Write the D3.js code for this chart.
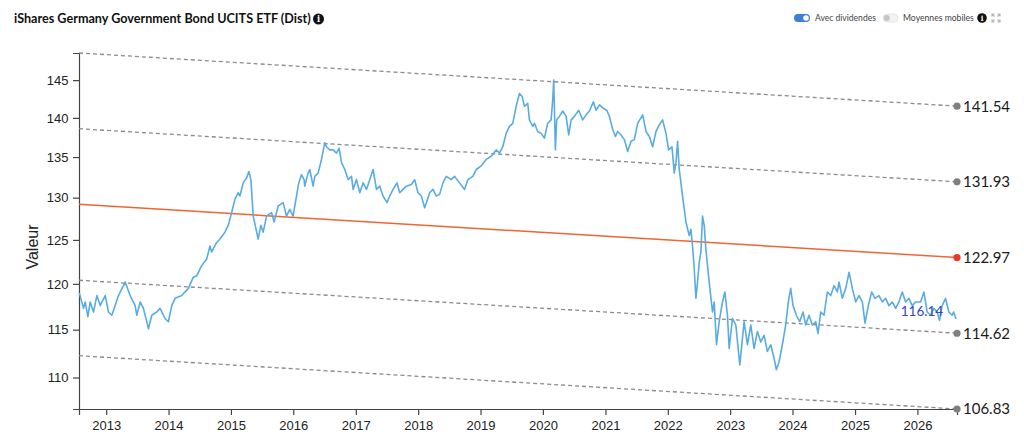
<!DOCTYPE html>
<html>
<head>
<meta charset="utf-8">
<script src="https://cdn.jsdelivr.net/npm/d3@7"></script>
<style>
  body { margin: 0; background: #fff; }
  svg { display: block; }
</style>
</head>
<body>
<svg id="chart" width="1024" height="438"></svg>
<script>
  // ---------------- Données ----------------
  // dates en années décimales
  const dates = [
    2012.57, 2012.637, 2012.664, 2012.707, 2012.744, 2012.797, 2012.851, 2012.904, 2012.984,
    2013.037, 2013.091, 2013.144, 2013.197, 2013.304, 2013.384, 2013.464, 2013.491, 2013.544,
    2013.597, 2013.651, 2013.677, 2013.731, 2013.811, 2013.864, 2013.944, 2013.997,
    2014.051, 2014.104, 2014.211, 2014.317, 2014.397, 2014.451, 2014.531, 2014.611, 2014.664,
    2014.691, 2014.771, 2014.824, 2014.904, 2014.957,
    2015.011, 2015.064, 2015.117, 2015.144, 2015.197, 2015.251, 2015.288, 2015.32, 2015.357,
    2015.384, 2015.437, 2015.48, 2015.517, 2015.571, 2015.651, 2015.693, 2015.757, 2015.837,
    2015.891, 2015.944, 2015.997,
    2016.024, 2016.088, 2016.131, 2016.173, 2016.184, 2016.237, 2016.264, 2016.317, 2016.344,
    2016.397, 2016.451, 2016.504, 2016.531, 2016.584, 2016.637, 2016.691, 2016.733, 2016.771,
    2016.824, 2016.877, 2016.931, 2016.957,
    2017.011, 2017.064, 2017.117, 2017.171, 2017.224, 2017.277, 2017.331, 2017.384, 2017.437,
    2017.501, 2017.544, 2017.597, 2017.661, 2017.704, 2017.757, 2017.811, 2017.891, 2017.944,
    2017.997,
    2018.051, 2018.104, 2018.131, 2018.184, 2018.237, 2018.291, 2018.344, 2018.397, 2018.451,
    2018.531, 2018.584, 2018.664, 2018.744, 2018.797, 2018.877, 2018.931,
    2019.011, 2019.091, 2019.171, 2019.251, 2019.304, 2019.357, 2019.411, 2019.464, 2019.517,
    2019.571, 2019.624, 2019.667, 2019.704, 2019.757, 2019.784, 2019.837, 2019.864, 2019.917,
    2019.971,
    2020.024, 2020.077, 2020.131, 2020.157, 2020.173, 2020.2, 2020.221, 2020.264, 2020.317,
    2020.371, 2020.413, 2020.451, 2020.504, 2020.573, 2020.637, 2020.691, 2020.744, 2020.808,
    2020.851, 2020.904, 2020.957,
    2021.021, 2021.064, 2021.117, 2021.16, 2021.197, 2021.251, 2021.304, 2021.357, 2021.411,
    2021.464, 2021.517, 2021.597, 2021.651, 2021.704, 2021.757, 2021.811, 2021.864, 2021.917,
    2021.971,
    2022.013, 2022.067, 2022.104, 2022.131, 2022.157, 2022.184, 2022.237, 2022.291, 2022.344,
    2022.371, 2022.397, 2022.424, 2022.451, 2022.477, 2022.504, 2022.531, 2022.557, 2022.584,
    2022.611, 2022.664, 2022.717, 2022.744, 2022.781, 2022.824, 2022.877, 2022.915, 2022.957,
    2022.984,
    2023.037, 2023.091, 2023.155, 2023.224, 2023.277, 2023.331, 2023.384, 2023.437, 2023.491,
    2023.544, 2023.597, 2023.651, 2023.704, 2023.741, 2023.784, 2023.837, 2023.891, 2023.933,
    2023.971,
    2024.008, 2024.061, 2024.115, 2024.168, 2024.211, 2024.264, 2024.317, 2024.371, 2024.408,
    2024.451, 2024.504, 2024.557, 2024.611, 2024.664, 2024.717, 2024.744, 2024.797, 2024.851,
    2024.904, 2024.957,
    2025.011, 2025.064, 2025.117, 2025.16, 2025.213, 2025.267, 2025.32, 2025.384, 2025.437,
    2025.491, 2025.544, 2025.597, 2025.651, 2025.704, 2025.757, 2025.811, 2025.864, 2025.917,
    2025.971,
    2026.051, 2026.104, 2026.157, 2026.211, 2026.264, 2026.317, 2026.355, 2026.397, 2026.451,
    2026.504, 2026.557, 2026.58, 2026.62
  ];

  const values = [
    119.0, 117.3, 118.0, 116.4, 118.0, 116.9, 118.7, 117.6, 118.7,
    116.9, 116.55, 117.6, 118.7, 120.2, 118.7, 117.6, 116.55, 118.0,
    117.3, 115.85, 115.1, 116.55, 116.9, 117.3, 116.2, 115.85,
    117.6, 118.4, 118.7, 119.5, 120.75, 120.9, 122.05, 122.8, 124.3,
    123.6, 124.7, 125.1, 125.9, 126.7,
    128.2, 129.8, 130.6, 130.2, 131.8, 132.4, 133.2, 132.2, 127.8,
    126.9, 125.1, 126.7, 125.9, 127.8, 128.2, 127.1, 129.0, 129.4,
    127.8, 128.6, 127.8,
    129.0, 131.8, 132.8, 132.2, 131.4, 133.0, 133.45, 131.4, 132.6,
    133.0, 134.7, 136.8, 136.3, 135.9, 135.9, 135.5, 136.1, 134.3,
    133.45, 132.2, 132.6, 131.0,
    132.2, 130.6, 131.8, 131.0, 132.2, 133.45, 131.0, 131.4, 130.2,
    129.4, 130.2, 131.0, 131.8, 130.6, 131.0, 131.4, 131.6, 132.2,
    130.6,
    130.2, 128.8, 129.4, 130.6, 131.0, 130.2, 130.4, 131.8, 132.6,
    132.2, 132.6, 131.8, 131.0, 132.2, 132.6, 133.45,
    133.9, 134.7, 135.1, 135.9, 135.5, 136.3, 138.0, 138.9, 139.3,
    141.5, 143.2, 142.8, 141.5, 141.9, 139.75, 138.9, 139.3, 138.25,
    138.0,
    137.4, 139.3, 139.75, 142.35, 145.0, 135.9, 139.75, 140.2, 140.9,
    140.2, 137.8, 139.75, 140.2, 141.0, 139.75, 140.4, 140.9, 142.1,
    141.0, 141.7, 141.3,
    141.0, 140.2, 138.5, 137.6, 138.25, 137.8, 137.2, 135.7, 137.0,
    137.2, 139.3, 140.4, 138.25, 137.6, 136.3, 138.25, 139.1, 139.75,
    138.0,
    135.9, 136.3, 133.0, 134.3, 137.0, 133.45, 130.2, 127.1, 125.5,
    126.25, 124.3, 121.7, 118.4, 120.2, 122.4, 123.6, 127.8, 126.7,
    123.9, 120.2, 116.9, 118.0, 113.4, 115.85, 118.0, 119.1, 116.55,
    113.0,
    116.2, 115.5, 111.3, 115.85, 113.4, 115.5, 113.0, 114.8, 113.7,
    114.4, 112.7, 113.4, 112.0, 110.8, 111.6, 113.4, 115.5, 118.0,
    119.5,
    117.6, 116.55, 115.85, 116.9, 115.5, 116.55, 115.5, 115.85, 114.6,
    116.9, 116.55, 119.1, 118.7, 119.8, 119.1, 120.2, 118.4, 119.5,
    121.3, 119.5,
    118.0, 118.7, 118.0, 115.7, 117.6, 119.1, 118.4, 118.7, 118.0,
    118.4, 117.6, 118.0, 117.3, 118.0, 119.1, 118.0, 118.4, 117.6,
    118.0,
    118.0, 119.1, 116.9, 116.55, 117.3, 116.9, 116.0, 117.6, 118.4,
    116.9, 116.55, 116.9, 116.14
  ];

  // Tendance (régression) et bandes : valeur au début et à la fin de la période
  const bandStart = [148.7, 138.6, 129.2, 120.4, 112.25];
  const bandEnd = [141.54, 131.93, 122.97, 114.62, 106.83];
  const bandIsTrend = [false, false, true, false, false];

  const periodStart = 2012.565;
  const periodEnd = 2026.635;
  const lastLabel = "116.14";

  const yTicks = [110, 115, 120, 125, 130, 135, 140, 145];
  const yDomain = [106.83, 148.7];

  // ---------------- Mise en page ----------------
  const svg = d3.select("#chart");
  const plotLeft = 79, plotRight = 957, plotTop = 53, plotBottom = 409;

  function toDate(t) {
    const yr = Math.floor(t);
    const a = new Date(yr, 0, 1), b = new Date(yr + 1, 0, 1);
    return new Date(+a + (t - yr) * (b - a));
  }

  // ajuste la taille de police pour tenir dans une largeur donnée
  function fitWidth(sel, size, width) {
    sel.style("font-size", size + "px");
    const w = sel.node().getComputedTextLength();
    if (w > 0) sel.style("font-size", (size * width / w).toFixed(2) + "px");
    return sel;
  }

  const series = dates.map((t, i) => ({ date: toDate(t), value: values[i] }));

  const x = d3.scaleTime()
    .domain([toDate(periodStart), toDate(periodEnd)])
    .range([plotLeft, plotRight]);

  const y = d3.scaleLog()
    .domain(yDomain)
    .range([plotBottom, plotTop]);

  // Axes
  const xAxis = svg.append("g")
    .attr("transform", `translate(0,${plotBottom})`)
    .call(d3.axisBottom(x).ticks(d3.timeYear.every(1)).tickFormat(d3.timeFormat("%Y")).tickPadding(5.5));

  const yAxis = svg.append("g")
    .attr("transform", `translate(${plotLeft},0)`)
    .call(d3.axisLeft(y).tickValues(yTicks).tickFormat(d3.format("d")).tickPadding(4.5));

  [xAxis, yAxis].forEach(ax => {
    ax.selectAll("path, line").attr("stroke", "#444").attr("stroke-width", 1.2);
    ax.selectAll("text")
      .attr("fill", "#222")
      .style("font-family", "'Liberation Sans', Arial, sans-serif")
      .style("font-size", "13px");
  });

  svg.append("text")
    .attr("transform", "translate(38,247) rotate(-90)")
    .attr("text-anchor", "middle")
    .attr("fill", "#222")
    .style("font-family", "'Liberation Sans', Arial, sans-serif")
    .style("font-size", "16px")
    .text("Valeur");

  // ---------------- Bandes ----------------
  const bands = bandStart.map((v, i) => ({ start: v, end: bandEnd[i], trend: bandIsTrend[i] }));

  svg.selectAll(".band")
    .data(bands)
    .enter()
    .append("line")
    .attr("class", "band")
    .attr("x1", x(toDate(periodStart)))
    .attr("x2", x(toDate(periodEnd)))
    .attr("y1", d => y(d.start))
    .attr("y2", d => y(d.end))
    .attr("stroke", d => d.trend ? "#f26430" : "#8a8a8a")
    .attr("stroke-width", d => d.trend ? 1.5 : 1.3)
    .attr("stroke-dasharray", d => d.trend ? null : "4,3");

  // ---------------- Courbe ----------------
  const line = d3.line()
    .x(d => x(d.date))
    .y(d => y(d.value));

  svg.append("path")
    .datum(series)
    .attr("fill", "none")
    .attr("stroke", "#58ace2")
    .attr("stroke-width", 1.6)
    .attr("stroke-linejoin", "round")
    .attr("d", line);

  svg.selectAll(".band-dot")
    .data(bands)
    .enter()
    .append("circle")
    .attr("cx", x(toDate(periodEnd)))
    .attr("cy", d => y(d.end))
    .attr("r", 3.6)
    .attr("fill", d => d.trend ? "#e8392b" : "#7f7f7f");

  svg.selectAll(".band-label")
    .data(bands)
    .enter()
    .append("text")
    .attr("x", x(toDate(periodEnd)) + 6)
    .attr("y", d => y(d.end))
    .attr("dy", "0.36em")
    .attr("fill", "#1a1a1a")
    .style("font-family", "Lato, sans-serif")
    .style("font-size", "15px")
    .text(d => d.end.toFixed(2));

  // Dernière valeur
  const last = series[series.length - 1];
  svg.append("text")
    .attr("x", x(last.date) - 13)
    .attr("y", y(last.value) - 3)
    .attr("text-anchor", "end")
    .attr("fill", "#3446c4")
    .style("font-family", "Lato, sans-serif")
    .style("font-size", "13.5px")
    .text(lastLabel);

  // ---------------- Titre et légende ----------------
  const title = svg.append("text")
    .attr("x", 14)
    .attr("y", 23)
    .attr("fill", "#111")
    .style("font-family", "Lato, sans-serif")
    .style("font-weight", "700")
    .text("iShares Germany Government Bond UCITS ETF (Dist)");
  fitWidth(title, 13, 297);

  function infoIcon(cx, cy, r) {
    svg.append("circle").attr("cx", cx).attr("cy", cy).attr("r", r).attr("fill", "#111");
    svg.append("text")
      .attr("x", cx).attr("y", cy).attr("dy", "0.36em")
      .attr("text-anchor", "middle")
      .attr("fill", "#fff")
      .style("font-family", "'DejaVu Serif', serif")
      .style("font-weight", "700")
      .style("font-size", (r * 1.5) + "px")
      .text("i");
  }
  infoIcon(318.5, 19, 5.5);

  // interrupteur "Avec dividendes" (actif)
  svg.append("rect")
    .attr("x", 794).attr("y", 14).attr("width", 16).attr("height", 8).attr("rx", 4)
    .attr("fill", "#3d7fd6");
  svg.append("circle").attr("cx", 806).attr("cy", 18).attr("r", 2.8).attr("fill", "#fff");
  const leg1 = svg.append("text")
    .attr("x", 815).attr("y", 18).attr("dy", "0.35em")
    .attr("fill", "#444")
    .style("font-family", "Lato, sans-serif")
    .text("Avec dividendes");
  fitWidth(leg1, 10, 61);

  // interrupteur "Moyennes mobiles" (inactif)
  svg.append("rect")
    .attr("x", 883).attr("y", 14).attr("width", 15).attr("height", 8).attr("rx", 4)
    .attr("fill", "#f3f3f3").attr("stroke", "#e0e0e0").attr("stroke-width", 0.8);
  svg.append("circle").attr("cx", 886.8).attr("cy", 18).attr("r", 3).attr("fill", "#c4c4c4");
  const leg2 = svg.append("text")
    .attr("x", 903).attr("y", 18).attr("dy", "0.35em")
    .attr("fill", "#444")
    .style("font-family", "Lato, sans-serif")
    .text("Moyennes mobiles");
  fitWidth(leg2, 10, 71);
  infoIcon(982, 18, 4.8);

  // icône plein écran
  const fs = svg.append("g").attr("transform", "translate(996,18)")
    .attr("stroke", "#b5b5b5").attr("stroke-width", 1.2).attr("fill", "none");
  [[-1, -1], [1, -1], [-1, 1], [1, 1]].forEach(([sx, sy]) => {
    fs.append("path").attr("d", `M${sx * 4},${sy * 1.5}V${sy * 4}H${sx * 1.5}M${sx * 4},${sy * 4}L${sx * 1.5},${sy * 1.5}`);
  });
</script>
</body>
</html>
